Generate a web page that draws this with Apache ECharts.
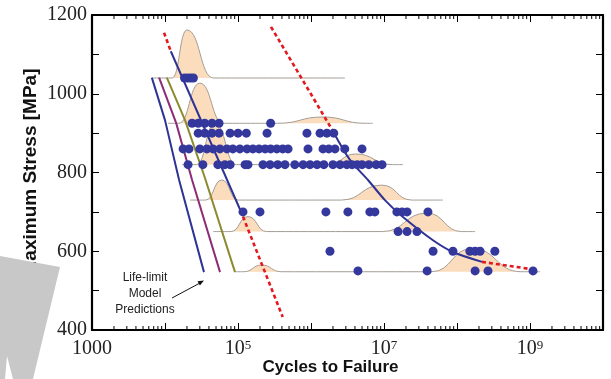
<!DOCTYPE html>
<html>
<head>
<meta charset="utf-8">
<script src="https://cdn.jsdelivr.net/npm/echarts@6/dist/echarts.min.js"></script>
<style>
html, body { margin: 0; padding: 0; background: #fff; }
#main { width: 611px; height: 379px; }
</style>
</head>
<body>
<div id="main"></div>
<script>
// test points: cycles to failure at each stress level [MPa]
const cyc1040 = [1.85e4, 2.05e4, 2.25e4, 2.45e4]
const cyc925 = [2.35e4, 2.85e4, 3.5e4, 4.4e4, 5.5e4, 2.8e5]
const cyc900 = [2.85e4, 3.5e4, 4.4e4, 5.5e4, 7.8e4, 1.0e5, 1.3e5, 2.5e5, 8.8e5, 1.33e6, 1.65e6, 2.05e6]
const cyc860 = [1.77e4, 2.13e4, 3.0e4, 3.75e4, 4.55e4, 5.65e4, 7.05e4, 8.5e4, 1.06e5, 1.33e5, 1.6e5, 1.94e5,
    2.35e5, 2.8e5, 3.4e5, 4.1e5, 4.85e5, 9.1e5, 1.46e6, 1.75e6, 2.13e6, 2.9e6, 5.0e6]
const cyc820 = [2.07e4, 3.3e4, 5.3e4, 6.6e4, 7.8e4, 1.25e5, 1.37e5, 2.2e5, 2.75e5, 3.5e5, 4.4e5, 6.0e5, 7.8e5,
    9.7e5, 1.21e6, 1.5e6, 2.0e6, 2.5e6, 3.1e6, 3.65e6, 4.3e6, 5.0e6, 6.2e6, 7.8e6, 9.4e6]
const cyc700 = [1.17e5, 2.0e5, 1.6e6, 3.2e6, 6.4e6, 7.5e6, 1.5e7, 1.77e7, 2.07e7, 4.0e7]
const cyc650 = [1.56e7, 2.07e7, 2.83e7]
const cyc600 = [1.82e6, 4.7e7, 8.8e7, 1.5e8, 1.77e8, 2.07e8, 3.3e8]
const cyc550 = [4.4e6, 3.9e7, 1.77e8, 2.66e8, 1.1e9]

const testRows = [
    [1040, cyc1040], [925, cyc925], [900, cyc900], [860, cyc860], [820, cyc820],
    [700, cyc700], [650, cyc650], [600, cyc600], [550, cyc550]
]

// life distributions (ridges): [cycles, stress], baseline -> bump -> baseline
const ridge1040 = [[6.85e3, 1040], [1.25e4, 1040], [2.0e4, 1162], [4.6e4, 1040], [2.92e6, 1040]]
const ridge925 = [[1.1e4, 925], [1.55e4, 925], [3.0e4, 1027], [6.3e4, 925], [3.5e5, 925], [1.46e6, 941], [5.5e6, 925], [7.06e6, 925]]
const ridge820 = [[1.71e4, 820], [2.7e4, 820], [4.84e4, 925], [9.5e4, 820], [1.7e6, 820], [4.1e6, 847], [1.3e7, 820], [1.82e7, 820]]
const ridge730 = [[2.2e4, 730], [3.6e4, 730], [6.0e4, 781], [1.0e5, 730], [2.6e6, 730], [9.3e6, 768], [2.4e7, 730], [6.43e7, 730]]
const ridge650 = [[4.55e4, 650], [8.0e4, 650], [1.37e5, 688], [2.45e5, 650], [9.5e6, 650], [3.88e7, 697], [1.15e8, 650], [1.77e8, 650]]
const ridge548 = [[9.1e4, 548], [1.2e5, 548], [2.11e5, 565], [3.9e5, 548], [4.5e7, 548], [1.6e8, 607], [7.5e8, 548], [1.37e9, 548]]
const ridges = [[1040, ridge1040], [925, ridge925], [820, ridge820], [730, ridge730], [650, ridge650], [548, ridge548]]

// S-N model curves
const leftTop = [[9.7e3, 1155], [1.2e4, 1108]]
const leftMid = [[1.2e4, 1108], [1.15e5, 692]]
const leftLow = [[1.17e5, 688], [4.1e5, 433]]
const rightTop = [[2.83e5, 1170], [2.0e6, 905]]
const rightMid = [[2.0e6, 905], [3.42e6, 832], [6.04e6, 781], [1.03e7, 730], [1.82e7, 687], [4.69e7, 628], [8.8e7, 598], [2.2e8, 573]]
const rightLow = [[2.2e8, 573], [1.0e9, 555]]

// life-limit model predictions
const llBlue = [[6.6e3, 1041], [1.0e4, 933], [1.56e4, 781], [3.42e4, 547]]
const llPurple = [[8.3e3, 1041], [1.42e4, 926], [2.35e4, 781], [5.67e4, 547]]
const llOlive = [[1.06e4, 1041], [1.88e4, 933], [3.53e4, 786], [9.1e4, 547]]

const decades = [3, 4, 5, 6, 7, 8, 9]
const minorTicks = []
decades.forEach(d => {
    for (let k = 2; k <= 9; k++) minorTicks.push([k * Math.pow(10, d), 400])
})

const BLUE = "#2f3393"
const RED = "#e3191f"

let chart = echarts.init(document.getElementById("main"))

let series = []

ridges.forEach(r => {
    series.push({
        type: "line",
        data: r[1],
        showSymbol: false,
        smooth: 0.5,
        smoothMonotone: "x",
        lineStyle: { color: "#a39d95", width: 1 },
        areaStyle: { color: "#fbdcbd", opacity: 1, origin: r[0] },
        z: 2,
        silent: true
    })
})

function plainLine(data, color, dashed, smooth) {
    return {
        type: "line",
        data: data,
        showSymbol: false,
        smooth: smooth || false,
        lineStyle: { color: color, width: dashed ? 2.6 : 2, type: dashed ? [4, 3] : "solid" },
        z: 4,
        silent: true
    }
}

series.push(plainLine(llBlue, BLUE, false))
series.push(plainLine(llPurple, "#8d2c76", false))
series.push(plainLine(llOlive, "#8c8a2e", false))
series.push(plainLine(leftTop, RED, true))
series.push(plainLine(leftMid, BLUE, false))
series.push(plainLine(leftLow, RED, true))
series.push(plainLine(rightTop, RED, true))
series.push(plainLine(rightMid, BLUE, false, 0.3))
series.push(plainLine(rightLow, RED, true))

let pts = []
testRows.forEach(row => row[1].forEach(c => pts.push([c, row[0]])))
series.push({
    type: "scatter",
    data: pts,
    symbolSize: 9,
    itemStyle: { color: "#34379b", opacity: 1 },
    z: 6
})

// log-style minor ticks on bottom and top axes
series.push({
    type: "custom",
    data: minorTicks,
    encode: { x: 0, y: 1 },
    z: 8,
    silent: true,
    renderItem: (params, api) => {
        let v = api.value(0)
        let b = api.coord([v, 400])
        let t = api.coord([v, 1200])
        return {
            type: "group",
            children: [
                { type: "line", shape: { x1: b[0], y1: b[1], x2: b[0], y2: b[1] - 4 }, style: { stroke: "#000", lineWidth: 1 } },
                { type: "line", shape: { x1: t[0], y1: t[1], x2: t[0], y2: t[1] + 4 }, style: { stroke: "#000", lineWidth: 1 } }
            ]
        }
    }
})

const serif = "Liberation Serif"
const sans = "Liberation Sans"

let options = {
    animation: false,
    grid: { left: 92, right: 8, top: 15, bottom: 49, outerBoundsMode: "none", containLabel: false },
    xAxis: [{
        type: "log",
        logBase: 10,
        min: 1000,
        max: 1e10,
        position: "bottom",
        axisLine: { lineStyle: { color: "#000", width: 2.2 } },
        axisTick: { inside: true, length: 7, lineStyle: { color: "#000", width: 1 } },
        splitLine: { show: false },
        axisLabel: {
            margin: 9,
            color: "#222",
            fontFamily: serif,
            fontSize: 20,
            formatter: v => {
                let e = Math.round(Math.log10(v))
                if (e % 2 === 0) return ""
                if (e === 3) return "{n|1000}"
                return "{n|10}{s|" + e + "}"
            },
            rich: {
                n: { fontFamily: serif, fontSize: 20, color: "#222" },
                s: { fontFamily: serif, fontSize: 13, color: "#222", padding: [0, 0, 7, 0] }
            }
        },
        name: "Cycles to Failure",
        nameLocation: "middle",
        nameMoveOverlap: false,
        nameGap: 29,
        nameTextStyle: { fontFamily: sans, fontWeight: "bold", fontSize: 17, color: "#111", padding: [0, 34, 0, 0] }
    }, {
        type: "log",
        logBase: 10,
        min: 1000,
        max: 1e10,
        position: "top",
        axisLine: { lineStyle: { color: "#000", width: 2.2 } },
        axisTick: { inside: true, length: 7, lineStyle: { color: "#000", width: 1 } },
        splitLine: { show: false },
        axisLabel: { show: false }
    }],
    yAxis: [{
        type: "value",
        min: 400,
        max: 1200,
        interval: 100,
        axisLine: { show: true, lineStyle: { color: "#000", width: 2.2 } },
        axisTick: { show: true, inside: true, length: 7, lineStyle: { color: "#000", width: 1 } },
        splitLine: { show: false },
        axisLabel: {
            margin: 5,
            color: "#222",
            fontFamily: serif,
            fontSize: 20,
            formatter: v => (v % 200 === 0 ? String(v) : "")
        },
        name: "Maximum Stress [MPa]",
        nameLocation: "middle",
        nameMoveOverlap: false,
        nameGap: 52,
        nameTextStyle: { fontFamily: sans, fontWeight: "bold", fontSize: 19, color: "#111" }
    }, {
        type: "value",
        min: 400,
        max: 1200,
        interval: 100,
        position: "right",
        axisLine: { show: true, lineStyle: { color: "#000", width: 2.2 } },
        axisTick: { show: true, inside: true, length: 7, lineStyle: { color: "#000", width: 1 } },
        splitLine: { show: false },
        axisLabel: { show: false }
    }],
    graphic: [
        {
            type: "text",
            x: 145,
            y: 270,
            style: {
                text: "Life-limit\nModel\nPredictions",
                fontFamily: sans, fontSize: 12, lineHeight: 16,
                fill: "#222", textAlign: "center", textVerticalAlign: "top"
            },
            z: 50
        },
        { type: "line", shape: { x1: 172, y1: 298, x2: 200, y2: 283 }, style: { stroke: "#111", lineWidth: 1 }, z: 50 },
        { type: "polygon", shape: { points: [[204, 280.5], [199.9, 285.6], [197.5, 281.2]] }, style: { fill: "#111" }, z: 50 },
        {
            type: "polygon",
            shape: { points: [[0, 256], [60, 267], [33, 379], [13, 379], [7, 356], [5, 379], [0, 379]] },
            style: { fill: "#c8c8c8" },
            z: 100
        }
    ],
    series: series
}
chart.setOption(options)
</script>
</body>
</html>
